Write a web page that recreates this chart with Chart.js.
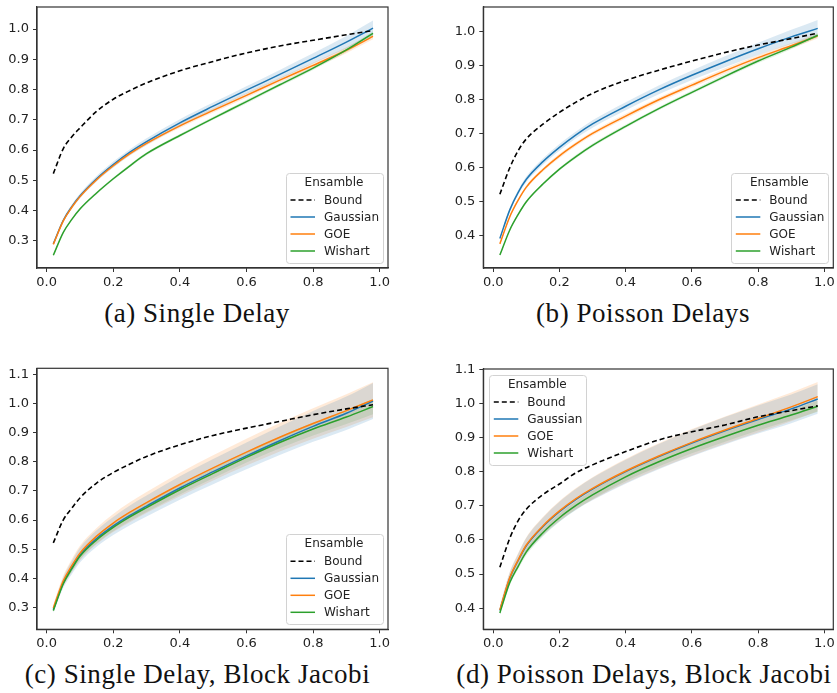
<!DOCTYPE html>
<html>
<head>
<meta charset="utf-8">
<script src="https://cdn.jsdelivr.net/npm/chart.js@4.4.1/dist/chart.umd.min.js"></script>
<style>
html,body{margin:0;padding:0;background:#fff;}
#wrap{position:relative;width:837px;height:693px;overflow:hidden;background:#fff;}
canvas{position:absolute;}
.cap{position:absolute;width:520px;font-family:"Liberation Serif","Times New Roman",serif;font-size:27px;letter-spacing:0.55px;line-height:27px;text-align:center;white-space:nowrap;color:#111;}
</style>
</head>
<body>
<div id="wrap">
  <canvas id="cA" width="418" height="292" style="left:0px;top:0px;"></canvas>
  <canvas id="cB" width="417" height="292" style="left:420px;top:0px;"></canvas>
  <canvas id="cC" width="418" height="312" style="left:0px;top:340px;"></canvas>
  <canvas id="cD" width="417" height="312" style="left:420px;top:340px;"></canvas>
  <div class="cap" id="capA" style="left:-63px;top:300px;"></div>
  <div class="cap" id="capB" style="left:383px;top:300px;"></div>
  <div class="cap" id="capC" style="left:-62.5px;top:661px;"></div>
  <div class="cap" id="capD" style="left:384px;top:661px;"></div>
</div>
<script>
// ---------------- data ----------------
const xValues = [0.02, 0.05, 0.075, 0.10, 0.15, 0.20, 0.25, 0.30, 0.40, 0.50, 0.60, 0.70, 0.80, 0.90, 0.98];
const xTicks = [0.0, 0.2, 0.4, 0.6, 0.8, 1.0];
const seriesNames = ['Bound', 'Gaussian', 'GOE', 'Wishart'];
const legendTitle = 'Ensamble';
const captions = ['(a) Single Delay', '(b) Poisson Delays', '(c) Single Delay, Block Jacobi', '(d) Poisson Delays, Block Jacobi'];

// (a) Single Delay
const yTicksA = [0.3, 0.4, 0.5, 0.6, 0.7, 0.8, 0.9, 1.0];
const boundA    = [0.522, 0.605, 0.643, 0.673, 0.728, 0.768, 0.797, 0.822, 0.862, 0.893, 0.921, 0.944, 0.963, 0.981, 0.995];
const gaussianA = [0.290, 0.368, 0.412, 0.448, 0.505, 0.552, 0.593, 0.628, 0.690, 0.745, 0.798, 0.850, 0.903, 0.957, 1.003];
const goeA      = [0.288, 0.366, 0.410, 0.446, 0.502, 0.548, 0.588, 0.622, 0.680, 0.731, 0.781, 0.831, 0.880, 0.930, 0.976];
const wishartA  = [0.252, 0.328, 0.370, 0.405, 0.458, 0.505, 0.548, 0.588, 0.648, 0.705, 0.760, 0.816, 0.871, 0.931, 0.986];
const gaussianSpreadA = [0.004, 0.006, 0.007, 0.008, 0.009, 0.010, 0.010, 0.011, 0.012, 0.012, 0.013, 0.015, 0.017, 0.020, 0.025];
const goeSpreadA      = [0.003, 0.004, 0.005, 0.005, 0.005, 0.006, 0.006, 0.006, 0.007, 0.007, 0.008, 0.008, 0.009, 0.010, 0.010];
const wishartSpreadA  = [0.003, 0.003, 0.004, 0.004, 0.004, 0.004, 0.005, 0.005, 0.005, 0.005, 0.006, 0.006, 0.006, 0.007, 0.007];

// (b) Poisson Delays
const yTicksB = [0.4, 0.5, 0.6, 0.7, 0.8, 0.9, 1.0];
const boundB    = [0.522, 0.600, 0.650, 0.685, 0.728, 0.763, 0.793, 0.819, 0.857, 0.887, 0.914, 0.939, 0.961, 0.980, 0.996];
const gaussianB = [0.392, 0.476, 0.527, 0.566, 0.618, 0.660, 0.697, 0.729, 0.781, 0.829, 0.872, 0.912, 0.950, 0.985, 1.010];
const goeB      = [0.376, 0.456, 0.504, 0.543, 0.594, 0.635, 0.670, 0.701, 0.752, 0.800, 0.843, 0.885, 0.924, 0.959, 0.988];
const wishartB  = [0.343, 0.417, 0.462, 0.500, 0.552, 0.596, 0.633, 0.666, 0.722, 0.774, 0.822, 0.869, 0.914, 0.955, 0.990];
const gaussianSpreadB = [0.004, 0.006, 0.007, 0.008, 0.009, 0.010, 0.010, 0.011, 0.012, 0.013, 0.014, 0.016, 0.018, 0.021, 0.025];
const goeSpreadB      = [0.003, 0.004, 0.005, 0.005, 0.005, 0.006, 0.006, 0.006, 0.007, 0.007, 0.007, 0.008, 0.008, 0.008, 0.008];
const wishartSpreadB  = [0.003, 0.003, 0.004, 0.004, 0.004, 0.004, 0.005, 0.005, 0.005, 0.005, 0.005, 0.006, 0.006, 0.006, 0.006];

// (c) Single Delay, Block Jacobi
const yTicksC = [0.3, 0.4, 0.5, 0.6, 0.7, 0.8, 0.9, 1.0, 1.1];
const boundC    = [0.522, 0.601, 0.640, 0.676, 0.727, 0.763, 0.792, 0.818, 0.858, 0.890, 0.915, 0.938, 0.961, 0.981, 0.995];
const gaussianC = [0.294, 0.386, 0.436, 0.480, 0.537, 0.580, 0.616, 0.648, 0.710, 0.766, 0.820, 0.872, 0.921, 0.966, 1.008];
const goeC      = [0.299, 0.392, 0.443, 0.487, 0.545, 0.590, 0.627, 0.660, 0.722, 0.779, 0.833, 0.884, 0.931, 0.975, 1.012];
const wishartC  = [0.290, 0.382, 0.432, 0.476, 0.532, 0.575, 0.611, 0.643, 0.704, 0.760, 0.815, 0.866, 0.912, 0.953, 0.989];
const gaussianSpreadC = [0.012, 0.018, 0.022, 0.025, 0.028, 0.031, 0.034, 0.036, 0.040, 0.043, 0.046, 0.049, 0.053, 0.057, 0.062];
const goeSpreadC      = [0.012, 0.018, 0.022, 0.025, 0.028, 0.031, 0.034, 0.036, 0.040, 0.043, 0.046, 0.049, 0.052, 0.056, 0.060];
const wishartSpreadC  = [0.006, 0.008, 0.010, 0.011, 0.012, 0.013, 0.014, 0.015, 0.016, 0.017, 0.018, 0.020, 0.022, 0.024, 0.026];

// (d) Poisson Delays, Block Jacobi
const yTicksD = [0.4, 0.5, 0.6, 0.7, 0.8, 0.9, 1.0, 1.1];
const boundD    = [0.520, 0.605, 0.656, 0.690, 0.733, 0.764, 0.797, 0.820, 0.859, 0.893, 0.917, 0.937, 0.961, 0.979, 0.993];
const gaussianD = [0.393, 0.488, 0.539, 0.583, 0.639, 0.683, 0.719, 0.749, 0.800, 0.844, 0.884, 0.920, 0.953, 0.984, 1.013];
const goeD      = [0.395, 0.490, 0.541, 0.585, 0.641, 0.685, 0.721, 0.751, 0.802, 0.846, 0.886, 0.922, 0.956, 0.990, 1.020];
const wishartD  = [0.386, 0.475, 0.522, 0.565, 0.621, 0.665, 0.701, 0.732, 0.785, 0.829, 0.868, 0.903, 0.936, 0.966, 0.992];
const gaussianSpreadD = [0.012, 0.017, 0.020, 0.023, 0.026, 0.029, 0.031, 0.033, 0.035, 0.037, 0.039, 0.040, 0.041, 0.042, 0.043];
const goeSpreadD      = [0.012, 0.017, 0.020, 0.023, 0.026, 0.029, 0.031, 0.033, 0.035, 0.037, 0.039, 0.040, 0.041, 0.042, 0.043];
const wishartSpreadD  = [0.006, 0.008, 0.009, 0.010, 0.011, 0.012, 0.012, 0.013, 0.013, 0.014, 0.014, 0.015, 0.015, 0.015, 0.016];

// ---------------- styling ----------------
const COLORS = { Bound: '#000000', Gaussian: '#1f77b4', GOE: '#ff7f0e', Wishart: '#2ca02c' };
const BANDS = { Gaussian: 'rgba(31,119,180,0.16)', GOE: 'rgba(255,127,14,0.16)', Wishart: 'rgba(44,160,44,0.14)' };
const TICK_FONT = { family: '"DejaVu Sans", sans-serif', size: 13 };
const AXIS_COLOR = '#333333';

const panels = [
  { canvas: 'cA', cap: 'capA', caption: captions[0], w: 418, h: 292, area: { l: 37, t: 7, r: 388, b: 268 },
    xMin: -0.029, xMax: 1.025, yMin: 0.21, yMax: 1.073, yTicks: yTicksA, legend: 'br',
    series: { Bound: boundA, Gaussian: gaussianA, GOE: goeA, Wishart: wishartA },
    spread: { Gaussian: gaussianSpreadA, GOE: goeSpreadA, Wishart: wishartSpreadA } },
  { canvas: 'cB', cap: 'capB', caption: captions[1], w: 417, h: 292, area: { l: 63.3, t: 7, r: 413.3, b: 268 },
    xMin: -0.030, xMax: 1.027, yMin: 0.305, yMax: 1.073, yTicks: yTicksB, legend: 'br',
    series: { Bound: boundB, Gaussian: gaussianB, GOE: goeB, Wishart: wishartB },
    spread: { Gaussian: gaussianSpreadB, GOE: goeSpreadB, Wishart: wishartSpreadB } },
  { canvas: 'cC', cap: 'capC', caption: captions[2], w: 418, h: 312, area: { l: 37, t: 28.3, r: 388, b: 289.3 },
    xMin: -0.029, xMax: 1.025, yMin: 0.226, yMax: 1.12, yTicks: yTicksC, legend: 'br',
    series: { Bound: boundC, Gaussian: gaussianC, GOE: goeC, Wishart: wishartC },
    spread: { Gaussian: gaussianSpreadC, GOE: goeSpreadC, Wishart: wishartSpreadC } },
  { canvas: 'cD', cap: 'capD', caption: captions[3], w: 417, h: 312, area: { l: 63.3, t: 29, r: 413.3, b: 289.3 },
    xMin: -0.030, xMax: 1.027, yMin: 0.338, yMax: 1.101, yTicks: yTicksD, legend: 'tl',
    series: { Bound: boundD, Gaussian: gaussianD, GOE: goeD, Wishart: wishartD },
    spread: { Gaussian: gaussianSpreadD, GOE: goeSpreadD, Wishart: wishartSpreadD } }
];

const frameLegendPlugin = {
  id: 'frameLegend',
  afterDatasetsDraw(chart) {
    const { ctx, chartArea: a } = chart;
    ctx.save();
    ctx.strokeStyle = AXIS_COLOR;
    ctx.lineWidth = 1.2;
    ctx.setLineDash([]);
    ctx.strokeRect(a.left, a.top, a.right - a.left, a.bottom - a.top);
    ctx.restore();
  },
  afterDraw(chart, args, opts) {
    const { ctx, chartArea: a } = chart;
    const w = 97, h = 90, inset = 5.5;
    const bx = opts.corner === 'tl' ? a.left + inset : a.right - inset - w;
    const by = opts.corner === 'tl' ? a.top + inset : a.bottom - inset - h;
    ctx.save();
    ctx.beginPath();
    if (ctx.roundRect) ctx.roundRect(Math.round(bx) + 0.5, Math.round(by) + 0.5, w, h, 3);
    else ctx.rect(Math.round(bx) + 0.5, Math.round(by) + 0.5, w, h);
    ctx.fillStyle = 'rgba(255,255,255,0.85)';
    ctx.fill();
    ctx.strokeStyle = '#d2d2d2';
    ctx.lineWidth = 1;
    ctx.stroke();
    ctx.fillStyle = '#222';
    ctx.font = '12px "DejaVu Sans", sans-serif';
    ctx.textBaseline = 'middle';
    ctx.textAlign = 'center';
    ctx.fillText(legendTitle, bx + w / 2, by + 10.5);
    ctx.textAlign = 'left';
    const entries = chart.data.datasets.filter(d => d.inLegend);
    entries.forEach((d, i) => {
      const y = by + 27.5 + 17 * i;
      ctx.beginPath();
      ctx.setLineDash(d.borderDash || []);
      ctx.strokeStyle = d.borderColor;
      ctx.lineWidth = d.borderWidth;
      ctx.moveTo(bx + 5, y);
      ctx.lineTo(bx + 29.5, y);
      ctx.stroke();
      ctx.setLineDash([]);
      ctx.fillStyle = '#222';
      ctx.fillText(d.label, bx + 38.5, y + 0.5);
    });
    ctx.restore();
  }
};

function pts(ys) { return xValues.map((x, i) => ({ x: x, y: ys[i] })); }

function buildPanel(p) {
  const datasets = [];
  // confidence bands (drawn underneath)
  ['Gaussian', 'GOE', 'Wishart'].forEach(name => {
    const m = p.series[name], s = p.spread[name];
    datasets.push({ label: name + ' upper', data: pts(m.map((v, i) => v + s[i])), borderColor: 'rgba(0,0,0,0)', borderWidth: 1,
      backgroundColor: BANDS[name], fill: '+1', pointRadius: 0, cubicInterpolationMode: 'monotone', order: 20 });
    datasets.push({ label: name + ' lower', data: pts(m.map((v, i) => v - s[i])), borderColor: 'rgba(0,0,0,0)', borderWidth: 1,
      fill: false, pointRadius: 0, cubicInterpolationMode: 'monotone', order: 20 });
  });
  const orders = { Bound: 0, Gaussian: 3, GOE: 2, Wishart: 1 };
  seriesNames.forEach(name => {
    datasets.push({ label: name, inLegend: true, data: pts(p.series[name]), borderColor: COLORS[name],
      borderWidth: name === 'Bound' ? 1.6 : 1.5, borderDash: name === 'Bound' ? [5, 3] : [],
      pointRadius: 0, fill: false, cubicInterpolationMode: 'monotone', order: orders[name] });
  });

  const a = p.area;
  const yW = a.l, xH = p.h - a.b;
  new Chart(document.getElementById(p.canvas), {
    type: 'line',
    data: { datasets },
    plugins: [frameLegendPlugin],
    options: {
      responsive: false, animation: false, devicePixelRatio: 1,
      layout: { padding: { left: 0, top: a.t, right: p.w - a.r, bottom: 0 } },
      plugins: { legend: { display: false }, tooltip: { enabled: false }, frameLegend: { corner: p.legend } },
      scales: {
        x: {
          type: 'linear', min: p.xMin, max: p.xMax,
          afterBuildTicks: s => { s.ticks = xTicks.map(v => ({ value: v })); },
          afterFit: s => { s.height = xH; s.paddingLeft = 0; s.paddingRight = 0; },
          grid: { display: true, drawOnChartArea: false, drawTicks: true, tickLength: 4, color: AXIS_COLOR, lineWidth: 1 },
          border: { display: true, color: AXIS_COLOR, width: 1.2 },
          ticks: { autoSkip: false, maxRotation: 0, padding: 3, color: '#222', font: TICK_FONT, callback: v => Number(v).toFixed(1) }
        },
        y: {
          type: 'linear', min: p.yMin, max: p.yMax,
          afterBuildTicks: s => { s.ticks = p.yTicks.map(v => ({ value: v })); },
          afterFit: s => { s.width = yW; s.paddingTop = 0; s.paddingBottom = 0; },
          grid: { display: true, drawOnChartArea: false, drawTicks: true, tickLength: 4, color: AXIS_COLOR, lineWidth: 1 },
          border: { display: true, color: AXIS_COLOR, width: 1.2 },
          ticks: { autoSkip: false, padding: 4, color: '#222', font: TICK_FONT, callback: v => Number(v).toFixed(1) }
        }
      }
    }
  });
  document.getElementById(p.cap).textContent = p.caption;
}

panels.forEach(buildPanel);
</script>
</body>
</html>
